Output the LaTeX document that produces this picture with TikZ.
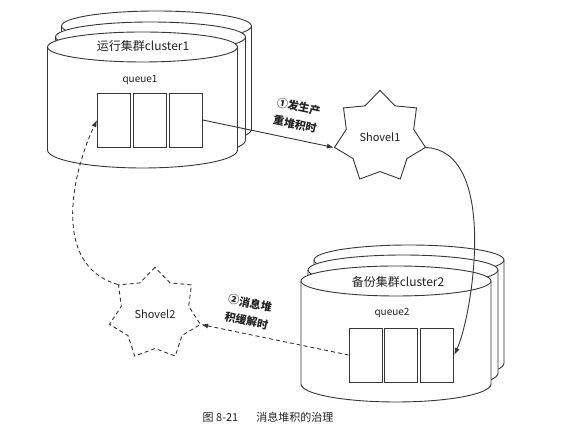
\documentclass[tikz,border=0pt]{standalone}
\usepackage{fontspec}
\setmainfont{Noto Sans CJK SC}
\definecolor{drawgray}{RGB}{55,55,55}
\definecolor{textgray}{RGB}{35,35,35}
\usetikzlibrary{arrows.meta,positioning,shapes.geometric}

\begin{document}
\begin{tikzpicture}[x=1pt, y=1pt,
    line/.style={draw=drawgray, line width=0.9pt},
    qbox/.style={rectangle, line, fill=white, minimum width=33pt,
                 minimum height=54pt, inner sep=0pt},
    shovel/.style={star, star points=7, star point ratio=1.35, minimum size=88pt,
                   inner sep=4pt, line, fill=white, text=textgray,
                   font=\fontsize{11}{13}\selectfont},
    dashes/.style={dash pattern=on 4pt off 3pt},
    arr/.style={-{Latex[length=7pt,width=5pt]}, line},
    lbl/.style={align=center, text=textgray, inner sep=1pt,
                font=\fontsize{11}{18}\selectfont\bfseries},
    title/.style={text=textgray, font=\fontsize{12}{14}\selectfont},
    qtitle/.style={text=textgray, font=\fontsize{10}{12}\selectfont},
    drum/.pic={
      \path[line, fill=white] (-95,0) -- (-95,-103)
        arc[start angle=180, end angle=360, x radius=95, y radius=18]
        -- (95,0) arc[start angle=0, end angle=180, x radius=95, y radius=15] -- cycle;
      \draw[line] (-95,0) arc[start angle=180, end angle=360, x radius=95, y radius=15];
    }
  ]
  \useasboundingbox (0,0) rectangle (586,436);

  % cluster 1
  \pic at (156.5,410) {drum};
  \pic at (150.5,399) {drum};
  \pic at (142.5,389) {drum};
  \node[title] (c1lab) at (143,390) {运行集群cluster1};
  \node[qtitle] (q1lab) at (140,356) {queue1};
  \node[qbox] (q1a) at (114,316) {};
  \node[qbox, right=2pt of q1a] (q1b) {};
  \node[qbox, right=2pt of q1b] (q1c) {};

  % cluster 2
  \pic at (409,176) {drum};
  \pic at (403,166) {drum};
  \pic at (396,155) {drum};
  \node[title] (c2lab) at (398,154) {备份集群cluster2};
  \node[qtitle] (q2lab) at (392,123) {queue2};
  \node[qbox] (q2a) at (365.5,81) {};
  \node[qbox, right=2pt of q2a] (q2b) {};
  \node[qbox, right=2pt of q2b] (q2c) {};

  % shovels
  \node[shovel] (sh1) at (380,299) {Shovel1};
  \node[shovel, dashes] (sh2) at (155,122) {Shovel2};

  \draw[arr] (q1c.east) -- node[lbl, pos=.68, above=8pt, sloped] {①发生产\\重堆积时} (sh1.outer point 3);
  \draw[arr] (sh1.outer point 6) .. controls +(73,-4) and +(18,39) .. (q2c.east);
  \draw[arr, dashes] (q2a.west) -- node[lbl, pos=.71, above=6pt, sloped] {②消息堆\\积缓解时} (sh2.outer point 6);
  \draw[arr, dashes] (sh2.outer point 2) .. controls +(-70,20) and +(-22,-46) .. (q1a.west);

  \node[text=textgray, font=\fontsize{11}{13}\selectfont] (cap) at (268,19) {图 8-21\hspace{18pt}消息堆积的治理};
\end{tikzpicture}
\end{document}
